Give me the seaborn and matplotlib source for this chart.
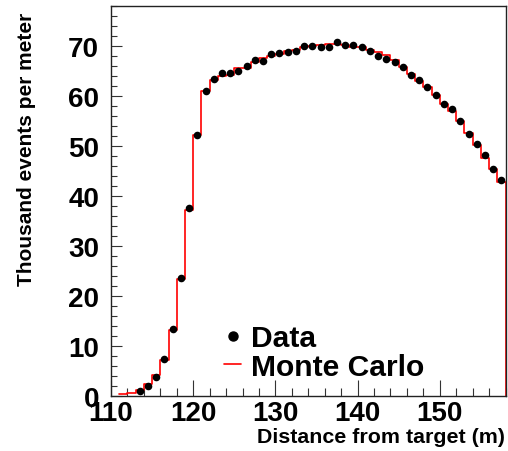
import numpy as np
import pandas as pd
import seaborn as sns
import matplotlib
matplotlib.use("Agg")
import matplotlib.pyplot as plt
from matplotlib.lines import Line2D
from matplotlib.ticker import MultipleLocator

# Measured data: bin centres (m) and thousand events per metre
data_x = [113.5, 114.5, 115.5, 116.5, 117.5, 118.5, 119.5, 120.5, 121.5, 122.5,
          123.5, 124.5, 125.5, 126.5, 127.5, 128.5, 129.5, 130.5, 131.5, 132.5,
          133.5, 134.5, 135.5, 136.5, 137.5, 138.5, 139.5, 140.5, 141.5, 142.5,
          143.5, 144.5, 145.5, 146.5, 147.5, 148.5, 149.5, 150.5, 151.5, 152.5,
          153.5, 154.5, 155.5, 156.5, 157.5]
data_y = [1.0, 2.0, 3.7, 7.3, 13.3, 23.5, 37.5, 52.1, 61.0, 63.3,
          64.6, 64.6, 65.0, 65.9, 67.1, 67.0, 68.3, 68.6, 68.7, 69.0,
          69.9, 69.9, 69.8, 69.7, 70.7, 70.2, 70.2, 69.7, 69.0, 68.0,
          67.4, 66.7, 65.7, 64.1, 63.2, 61.7, 60.1, 58.4, 57.3, 55.0,
          52.4, 50.3, 48.1, 45.4, 43.1]

# Simulation: 1 m bins from 111 m to 158 m (plus an empty bin closing the outline)
mc_edges = list(range(111, 160))
mc_y = [0.4, 0.5, 1.2, 2.3, 4.1, 7.1, 13.2, 23.3, 37.2, 52.1,
        61.0, 63.2, 64.0, 64.1, 65.5, 65.6, 66.7, 67.5, 68.0, 68.3,
        68.9, 69.2, 69.7, 69.9, 70.2, 70.3, 70.3, 70.1, 69.8, 69.7,
        69.2, 68.7, 68.2, 67.2, 65.7, 64.4, 63.0, 61.7, 60.2, 58.4,
        56.9, 54.9, 52.5, 50.1, 47.6, 45.3, 42.8, 0.0]

x_ticks = [110, 120, 130, 140, 150]
y_ticks = [0, 10, 20, 30, 40, 50, 60, 70]

sns.set_style("white")
plt.rcParams["font.family"] = ["Liberation Sans", "DejaVu Sans"]
plt.rcParams["font.weight"] = "bold"
plt.rcParams["text.color"] = "black"
plt.rcParams["xtick.labelcolor"] = "black"
plt.rcParams["ytick.labelcolor"] = "black"

fig = plt.figure(figsize=(5.08, 4.52), dpi=100)
ax = fig.add_axes([0.2185, 0.1224, 0.7766, 0.8621])

mc = pd.DataFrame({"x": np.array(mc_edges[:-1]) + 0.5, "w": mc_y})
sns.histplot(data=mc, x="x", weights="w", bins=mc_edges, element="step",
             fill=False, color="#ff0000", linewidth=1.2, ax=ax)

dd = pd.DataFrame({"x": data_x, "y": data_y})
sns.scatterplot(data=dd, x="x", y="y", color="black", s=30, linewidth=0,
                ax=ax, zorder=3)

ax.set_xlim(110, 158)
ax.set_ylim(0, 78)
ax.set_xticks(x_ticks)
ax.set_yticks(y_ticks)
ax.set_xticklabels([str(t) for t in x_ticks])
ax.set_yticklabels([str(t) for t in y_ticks])
ax.xaxis.set_minor_locator(MultipleLocator(2))
ax.yaxis.set_minor_locator(MultipleLocator(2))
ax.tick_params(axis="x", which="major", direction="in", length=11.5, width=0.8,
               labelsize=20, pad=3, bottom=True, top=False, color="#333333",
               labelcolor="black")
ax.tick_params(axis="x", which="minor", direction="in", length=5.8, width=0.8,
               bottom=True, top=False, color="#333333")
ax.tick_params(axis="y", which="major", direction="in", length=7.9, width=0.8,
               labelsize=20, pad=8.5, left=True, right=False, color="#333333",
               labelcolor="black")
ax.tick_params(axis="y", which="minor", direction="in", length=4.3, width=0.8,
               left=True, right=False, color="#333333")
for lab in ax.get_xticklabels() + ax.get_yticklabels():
    lab.set_fontweight("bold")

for s in ax.spines.values():
    s.set_color("#222222")
    s.set_linewidth(1.0)

ax.set_xlabel("")
ax.set_ylabel("")
fig.text(0.994, 0.012, "Distance from target (m)", ha="right", va="bottom",
         fontsize=15.4, fontweight="bold", color="black")
fig.text(0.052, 0.972, "Thousand events per meter", ha="center", va="top",
         rotation=90, fontsize=15, fontweight="bold", color="black")

handles = [Line2D([], [], marker="o", ls="", color="black", markersize=6.5),
           Line2D([], [], color="#ff0000", lw=1.2)]
leg = ax.legend(handles, ["Data", "Monte Carlo"], loc="upper left",
                bbox_to_anchor=(224 / 508, 1 - 325 / 452),
                bbox_transform=fig.transFigure, frameon=False,
                prop={"size": 21.6, "weight": "bold"},
                handlelength=0.57, handletextpad=0.33, labelspacing=0.03,
                borderpad=0, borderaxespad=0)
for t in leg.get_texts():
    t.set_color("black")

fig.savefig("out.png", dpi=100)
